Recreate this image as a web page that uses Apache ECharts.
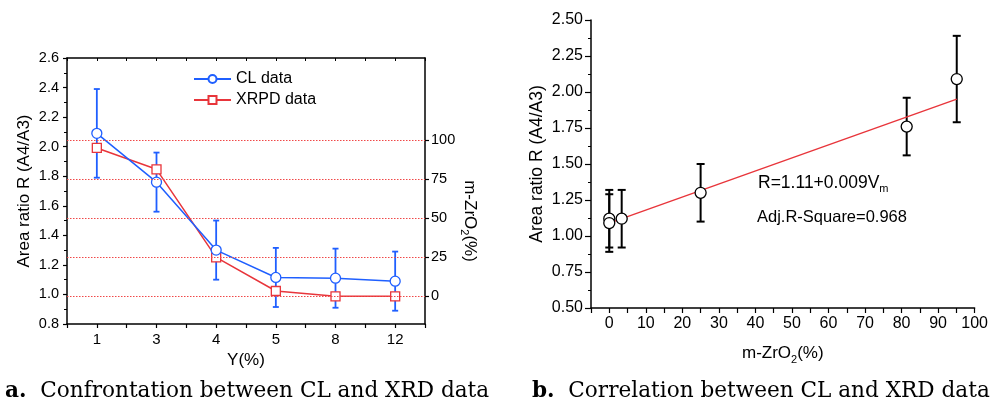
<!DOCTYPE html>
<html><head><meta charset="utf-8">
<script src="https://cdn.jsdelivr.net/npm/echarts@6/dist/echarts.min.js"></script>
<style>html,body{margin:0;padding:0;background:#fff}#c{width:991px;height:403px}</style>
</head><body><div id="c"></div>
<script>
// ---- data (chart a) ----
const yCats = ['1', '3', '4', '5', '8', '12'];
const clData = [2.09, 1.76, 1.30, 1.115, 1.11, 1.09];
const clErr = [0.30, 0.20, 0.20, 0.20, 0.20, 0.20];
const xrpdData = [95.1, 81.4, 25.0, 3.4, 0, 0];
const rightTicks = [0, 25, 50, 75, 100];
// ---- data (chart b) ----
const mZrO2 = [95.1, 81.4, 25.0, 3.4, 0, 0];
const ratioR = [2.09, 1.76, 1.30, 1.12, 1.12, 1.09];
const ratioErr = [0.30, 0.20, 0.20, 0.20, 0.20, 0.20];
const fitX = [0, 95.1];
const fitY = [1.09, 1.95];

const FONT = 'Liberation Sans';
const BLUE = '#1f5fff';
const RED = '#e8353b';

function errRender(color, capW, lw) {
  return function (params, api) {
    const x = api.value(0), lo = api.value(1), hi = api.value(2);
    const p1 = api.coord([x, hi]);
    const p2 = api.coord([x, lo]);
    const st = { stroke: color, lineWidth: lw };
    return { type: 'group', children: [
      { type: 'line', shape: { x1: p1[0], y1: p1[1], x2: p2[0], y2: p2[1] }, style: st },
      { type: 'line', shape: { x1: p1[0] - capW / 2, y1: p1[1], x2: p1[0] + capW / 2, y2: p1[1] }, style: st },
      { type: 'line', shape: { x1: p2[0] - capW / 2, y1: p2[1], x2: p2[0] + capW / 2, y2: p2[1] }, style: st }
    ]};
  };
}

const clErrData = yCats.map((c, i) => [c, clData[i] - clErr[i], clData[i] + clErr[i]]);
const rErrData = mZrO2.map((x, i) => [x, ratioR[i] - ratioErr[i], ratioR[i] + ratioErr[i]]);

const chart = echarts.init(document.getElementById('c'), null, { renderer: 'canvas' });
const axLine = { show: true, onZero: false, lineStyle: { color: '#000', width: 1.5 } };

chart.setOption({
  animation: false,
  textStyle: { fontFamily: FONT, color: '#000' },
  grid: [
    { left: 67, top: 58, width: 358, height: 266 },
    { left: 591, top: 20, width: 388, height: 288 }
  ],
  legend: {
    left: 188, top: 66, orient: 'vertical', itemWidth: 37, itemHeight: 10, itemGap: 5,
    textStyle: { fontFamily: FONT, fontSize: 16, color: '#000' },
    data: ['CL data', 'XRPD data']
  },
  xAxis: [
    { type: 'category', gridIndex: 0, data: yCats, boundaryGap: true,
      axisLine: axLine, axisTick: { show: false },
      axisLabel: { fontSize: 15, color: '#000', margin: 8 },
      name: 'Y(%)', nameLocation: 'middle', nameGap: 24,
      nameTextStyle: { fontSize: 17, color: '#000' } },
    { type: 'value', gridIndex: 0, position: 'bottom', min: 0, max: 12, interval: 1,
      axisLine: { show: false, onZero: false }, axisTick: { show: true, length: 4, lineStyle: { color: '#000', width: 1.2 } },
      axisLabel: { show: false }, splitLine: { show: false } },
    { type: 'value', gridIndex: 0, position: 'top', min: 0, max: 12, interval: 1,
      axisLine: axLine, axisTick: { show: true, inside: true, length: 3, lineStyle: { color: '#000', width: 1 } },
      axisLabel: { show: false }, splitLine: { show: false } },
    { type: 'value', gridIndex: 1, min: -5, max: 100, interval: 5,
      axisLine: axLine, axisTick: { show: true, length: 5, lineStyle: { color: '#000', width: 1.2 } },
      axisLabel: { fontSize: 16, color: '#000', margin: 8,
        formatter: v => (Math.abs(v % 10) < 1e-9 ? String(v) : '') },
      splitLine: { show: false },
      name: 'm-ZrO{s|2}(%)', nameLocation: 'middle', nameGap: 34,
      nameTextStyle: { fontSize: 17, color: '#000', rich: { s: { fontSize: 11, verticalAlign: 'bottom', padding: [12, 0, 0, 0] } } } }
  ],
  yAxis: [
    { type: 'value', gridIndex: 0, min: 0.8, max: 2.6, interval: 0.2,
      axisLine: axLine, axisTick: { show: true, length: 4, lineStyle: { color: '#000', width: 1.2 } },
      minorTick: { show: true, splitNumber: 2, length: 3, lineStyle: { color: '#000', width: 1 } },
      axisLabel: { fontSize: 14.5, color: '#000', margin: 8, formatter: v => v.toFixed(1) },
      splitLine: { show: false },
      name: 'Area ratio R (A4/A3)', nameLocation: 'middle', nameGap: 34,
      nameTextStyle: { fontSize: 17, color: '#000' } },
    { type: 'value', gridIndex: 0, position: 'right', min: -17.76, max: 152.76,
      axisLine: axLine,
      axisTick: { show: true, length: 4, customValues: rightTicks, lineStyle: { color: '#000', width: 1.2 } },
      axisLabel: { fontSize: 14.5, color: '#000', margin: 6, customValues: rightTicks },
      splitLine: { show: false } },
    { type: 'value', gridIndex: 1, min: 0.5, max: 2.5, interval: 0.25,
      axisLine: axLine, axisTick: { show: true, length: 6, lineStyle: { color: '#000', width: 1.2 } },
      minorTick: { show: true, splitNumber: 2, length: 3, lineStyle: { color: '#000', width: 1 } },
      axisLabel: { fontSize: 16, color: '#000', margin: 8, formatter: v => v.toFixed(2) },
      splitLine: { show: false },
      name: 'Area ratio R (A4/A3)', nameLocation: 'middle', nameGap: 45,
      nameTextStyle: { fontSize: 17.5, color: '#000' } }
  ],
  series: [
    { type: 'custom', name: 'clErr', xAxisIndex: 0, yAxisIndex: 0, data: clErrData,
      renderItem: errRender(BLUE, 6, 1.8), z: 2, silent: true },
    { type: 'line', name: 'CL data', xAxisIndex: 0, yAxisIndex: 0, data: clData,
      symbol: 'circle', symbolSize: 10, color: BLUE,
      itemStyle: { color: '#fff', borderColor: BLUE, borderWidth: 1.3 },
      lineStyle: { color: BLUE, width: 1.5 }, z: 4 },
    { type: 'line', name: 'XRPD data', xAxisIndex: 0, yAxisIndex: 1, data: xrpdData,
      symbol: 'rect', symbolSize: 9, color: RED,
      itemStyle: { color: '#fff', borderColor: RED, borderWidth: 1.3 },
      lineStyle: { color: RED, width: 1.5 }, z: 3,
      markLine: { silent: true, symbol: ['none', 'none'], label: { show: false },
        lineStyle: { color: '#f04848', type: [1.5, 1.5], width: 1 },
        data: rightTicks.map(v => ({ yAxis: v })) } },
    { type: 'custom', name: 'rErr', xAxisIndex: 3, yAxisIndex: 2, data: rErrData,
      renderItem: errRender('#000', 8, 2), z: 2, silent: true },
    { type: 'line', name: 'fit', xAxisIndex: 3, yAxisIndex: 2,
      data: fitX.map((x, i) => [x, fitY[i]]), symbol: 'none',
      lineStyle: { color: RED, width: 1.4 }, z: 3 },
    { type: 'scatter', name: 'CLvsXRD', xAxisIndex: 3, yAxisIndex: 2,
      data: mZrO2.map((x, i) => [x, ratioR[i]]), symbol: 'circle', symbolSize: 11,
      itemStyle: { color: '#fff', borderColor: '#000', borderWidth: 1.3, opacity: 1 }, z: 4 }
  ],
  graphic: [
    { type: 'text', x: 470, y: 221, rotation: -Math.PI / 2,
      style: { text: 'm-ZrO{s|2}(%)', font: '17px "Liberation Sans"', fill: '#000', align: 'center', verticalAlign: 'middle',
        rich: { s: { fontSize: 11, fontFamily: FONT, padding: [12, 0, 0, 0] } } } },
    { type: 'text', x: 758, y: 183,
      style: { text: 'R=1.11+0.009V{s|m}', font: '17.5px "Liberation Sans"', fill: '#000', verticalAlign: 'middle',
        rich: { s: { fontSize: 11, fontFamily: FONT, padding: [12, 0, 0, 0] } } } },
    { type: 'text', x: 757, y: 217,
      style: { text: 'Adj.R-Square=0.968', font: '16.5px "Liberation Sans"', fill: '#000', verticalAlign: 'middle' } },
    { type: 'text', x: 5, y: 391,
      style: { text: '{b|a.}  Confrontation between CL and XRD data', font: '21.6px "DejaVu Serif"', fill: '#000', verticalAlign: 'middle',
        rich: { b: { fontWeight: 'bold', fontSize: 21.6, fontFamily: 'DejaVu Serif' } } } },
    { type: 'text', x: 532, y: 391,
      style: { text: '{b|b.}  Correlation between CL and XRD data', font: '21.6px "DejaVu Serif"', fill: '#000', verticalAlign: 'middle',
        rich: { b: { fontWeight: 'bold', fontSize: 21.6, fontFamily: 'DejaVu Serif' } } } }
  ]
});
</script></body></html>
